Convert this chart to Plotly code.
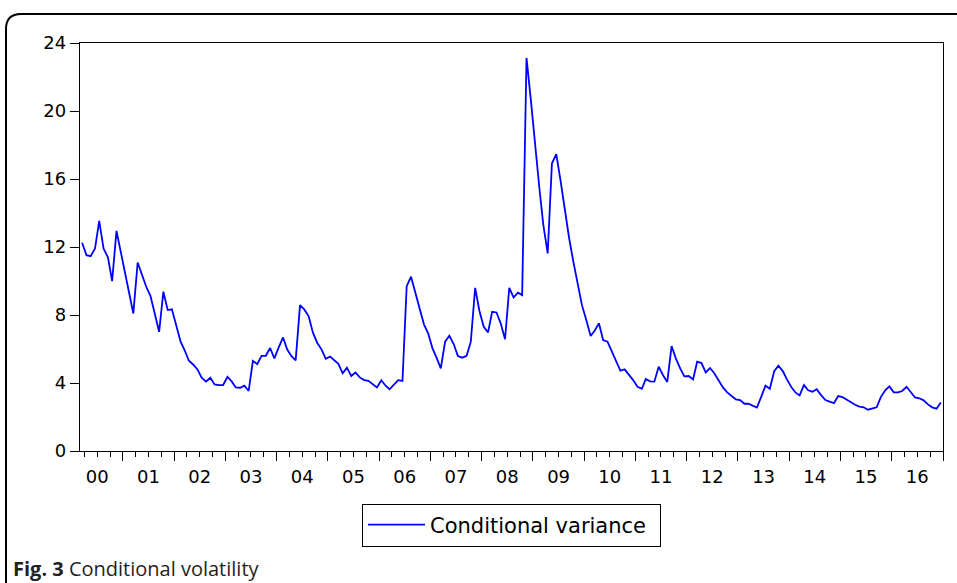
import pandas as pd
import plotly.graph_objects as go

# ---- data (monthly, Mar 2000 - Dec 2016) ----
start_month = "2000-03-01"
v2000 = [12.25, 11.52, 11.46, 11.91, 13.54, 11.91, 11.39, 9.99, 12.95, 11.72]
v2001 = [10.45, 9.07, 8.09, 11.09, 10.41, 9.66, 9.13, 8.09, 7.01, 9.37, 8.29, 8.33]
v2002 = [7.31, 6.43, 5.94, 5.31, 5.09, 4.80, 4.31, 4.08, 4.31, 3.92, 3.88, 3.88]
v2003 = [4.37, 4.08, 3.74, 3.72, 3.84, 3.53, 5.30, 5.11, 5.60, 5.60, 6.06, 5.45]
v2004 = [6.09, 6.68, 5.98, 5.58, 5.33, 8.58, 8.33, 7.94, 6.96, 6.37, 5.98, 5.43]
v2005 = [5.55, 5.31, 5.13, 4.57, 4.90, 4.41, 4.62, 4.33, 4.17, 4.13, 3.94, 3.74]
v2006 = [4.16, 3.84, 3.63, 3.88, 4.17, 4.12, 9.70, 10.25, 9.35, 8.39, 7.45, 6.92]
v2007 = [6.04, 5.45, 4.86, 6.43, 6.78, 6.29, 5.58, 5.49, 5.60, 6.43, 9.60, 8.25]
v2008 = [7.31, 6.98, 8.19, 8.15, 7.51, 6.58, 9.60, 9.03, 9.31, 9.17, 23.12, 20.73]
v2009 = [17.99, 15.44, 13.29, 11.62, 16.91, 17.46, 15.93, 14.07, 12.50, 11.13, 9.76, 8.58]
v2010 = [7.70, 6.76, 7.07, 7.51, 6.53, 6.43, 5.88, 5.35, 4.72, 4.80, 4.49, 4.17]
v2011 = [3.78, 3.66, 4.23, 4.10, 4.08, 4.96, 4.47, 4.06, 6.17, 5.45, 4.86, 4.39]
v2012 = [4.41, 4.21, 5.25, 5.17, 4.62, 4.88, 4.57, 4.17, 3.74, 3.45, 3.23, 3.04]
v2013 = [3.00, 2.78, 2.78, 2.66, 2.55, 3.20, 3.84, 3.66, 4.70, 5.02, 4.70, 4.21]
v2014 = [3.76, 3.43, 3.27, 3.88, 3.57, 3.49, 3.64, 3.29, 3.00, 2.90, 2.82, 3.23]
v2015 = [3.17, 3.02, 2.86, 2.72, 2.61, 2.57, 2.43, 2.49, 2.57, 3.17, 3.57, 3.80]
v2016 = [3.45, 3.45, 3.53, 3.78, 3.45, 3.15, 3.10, 2.98, 2.74, 2.57, 2.49, 2.86]

y_ticks = [0, 4, 8, 12, 16, 20, 24]
series_name = "Conditional variance"
caption_bold = "Fig. 3"
caption_text = "Conditional volatility"

values = (v2000 + v2001 + v2002 + v2003 + v2004 + v2005 + v2006 + v2007 +
          v2008 + v2009 + v2010 + v2011 + v2012 + v2013 + v2014 + v2015 + v2016)
dates = pd.date_range(start_month, periods=len(values), freq="MS") + pd.Timedelta(days=15)

# ---- layout geometry (pixels) ----
W, H = 957, 583
ML, MR, MT, MB = 80, 14, 43, 132
PW, PH = W - ML - MR, H - MT - MB


def px(x):
    return (x - ML) / PW


def py(y):
    return (H - MB - y) / PH


fig = go.Figure()
fig.add_trace(go.Scatter(
    x=dates, y=values, mode="lines", name=series_name,
    line=dict(color="#0000FF", width=1.8),
    showlegend=True,
))

tick_font = dict(family="DejaVu Sans", size=18, color="#000000")

fig.update_layout(
    width=W, height=H,
    margin=dict(l=ML, r=MR, t=MT, b=MB, pad=0),
    paper_bgcolor="white", plot_bgcolor="white",
    showlegend=True,
    legend=dict(
        x=0.5, xanchor="center", y=py(525), yanchor="middle",
        orientation="h",
        itemwidth=57,
        entrywidth=225,
        bordercolor="#000000", borderwidth=1,
        bgcolor="white",
        font=dict(family="DejaVu Sans", size=21, color="#000000"),
    ),
    xaxis=dict(
        type="date",
        range=["2000-03-01", "2017-01-01"],
        tick0="2000-01-01", dtick="M12",
        tickformat="%y", ticklabelmode="period",
        ticks="outside", ticklen=9, tickwidth=1.2, tickcolor="#000000",
        minor=dict(dtick="M3", ticks="outside", ticklen=5, tickwidth=1.2, tickcolor="#000000"),
        showline=True, linecolor="#000000", linewidth=1.3, mirror=True,
        showgrid=False, zeroline=False,
        tickfont=tick_font,
    ),
    yaxis=dict(
        range=[0, 24], tickvals=y_ticks,
        ticks="outside", ticklen=9, tickwidth=1.2, tickcolor="#000000",
        showline=True, linecolor="#000000", linewidth=1.3, mirror=True,
        showgrid=False, zeroline=False,
        tickfont=tick_font,
    ),
    annotations=[dict(
        xref="paper", yref="paper", x=px(11), y=py(568),
        xanchor="left", yanchor="middle", showarrow=False,
        text=f"<b>{caption_bold}</b> {caption_text}",
        font=dict(family="Open Sans", size=20, color="#231f20"),
    )],
    shapes=[dict(
        type="path", xref="paper", yref="paper",
        path=(f"M {px(6)},{py(600)} L {px(6)},{py(29)} "
              f"Q {px(6)},{py(14)} {px(21)},{py(14)} L {px(970)},{py(14)}"),
        line=dict(color="#000000", width=2),
    )],
)

fig.write_html(
    "out.html",
    config={"displayModeBar": False},
    post_script="document.body.style.margin='0px';document.body.style.overflow='hidden';",
)
